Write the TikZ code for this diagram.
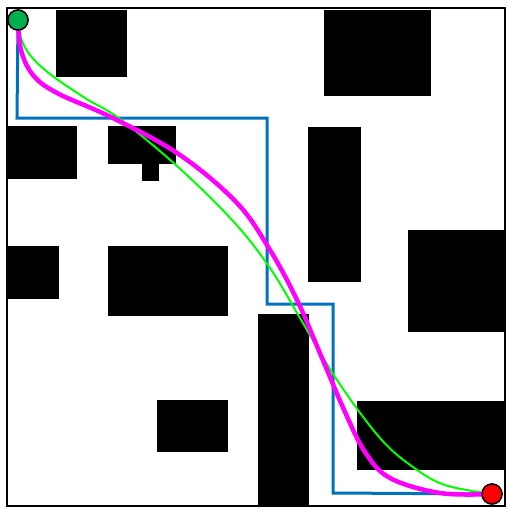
\documentclass[tikz,border=0pt]{standalone}
\definecolor{pathblue}{RGB}{0,114,189}
\definecolor{startgreen}{RGB}{0,176,80}
\definecolor{pathmag}{RGB}{255,0,255}
\definecolor{pathgreen}{RGB}{0,255,0}
\definecolor{goalred}{RGB}{255,0,0}
\begin{document}
\begin{tikzpicture}[x=1pt,y=-1pt,
  obst/.style={fill=black,draw=none},
  endpt/.style={circle,draw=black,line width=1.4pt,minimum size=20pt,inner sep=0pt}]
\useasboundingbox (0,0) rectangle (507,509);
\fill[white] (0,0) rectangle (507,509);
% obstacles
\fill[obst] (56,10) rectangle (127,77);
\fill[obst] (324,10) rectangle (431,96);
\fill[obst] (7,126) rectangle (77,179);
\fill[obst] (108,126) rectangle (176,164);
\fill[obst] (142,163) rectangle (159,181);
\fill[obst] (308,127) rectangle (361,282);
\fill[obst] (7,246) rectangle (59,299);
\fill[obst] (108,246) rectangle (228,316);
\fill[obst] (408,230) rectangle (505,332);
\fill[obst] (258,314) rectangle (309,505);
\fill[obst] (357,401) rectangle (505,470);
\fill[obst] (157,400) rectangle (228,452);
% border
\draw[black,line width=2.4pt] (7,8) rectangle (505,506);
% nodes
\node[endpt,fill=startgreen] (start) at (18,20) {};
\node[endpt,fill=goalred] (goal) at (492,494) {};
% blue path
\draw[pathblue,line width=3pt,line join=miter] (start.center) -- (17,118) -- (267,118) -- (267,304) -- (333,304) -- (333,493) -- (goal.center);
% green path
\draw[pathgreen,line width=2pt] plot[smooth,tension=0.6] coordinates {(18,20) (21,38) (30,55) (50,74) (85,98) (120,119) (177,166) (233,221) (270,268) (300,318) (337,380) (380,438) (413,467) (445,485) (492,494)};
% magenta path
\draw[pathmag,line width=4.5pt] plot[smooth,tension=0.6] coordinates {(18,20) (21,50) (33,75) (57,93) (113,118) (180,155) (237,203) (270,250) (297,300) (322,358) (345,412) (365,452) (390,478) (440,493) (492,494)};
% redraw end markers on top
\node[endpt,fill=startgreen] at (start.center) {};
\node[endpt,fill=goalred] at (goal.center) {};
\end{tikzpicture}
\end{document}
